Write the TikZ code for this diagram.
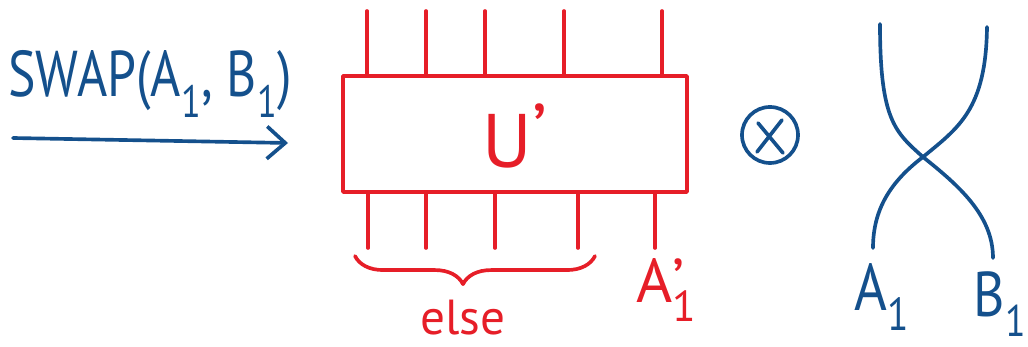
\documentclass[tikz,border=0pt]{standalone}
\usepackage{fontspec}
\setmainfont{PT Sans}
\usetikzlibrary{arrows.meta,decorations.pathreplacing}
\definecolor{inkblue}{HTML}{14508C}
\definecolor{inkred}{HTML}{E61E28}
\tikzset{
  pen/.style={line width=2.6pt, line cap=round, line join=round},
  bluepen/.style={pen, draw=inkblue},
  redpen/.style={pen, draw=inkred},
  hand/.style={inner sep=0pt, font=\fontsize{#1}{#1}\selectfont},
}
\begin{document}
\begin{tikzpicture}[x=0.025cm, y=-0.025cm]
\useasboundingbox (0,0) rectangle (1028,347);
% left: SWAP arrow
\node[hand=46, text=inkblue] (swap) at (150,84) {\scalebox{0.8}[1]{SWAP(A\textsubscript{1}, B\textsubscript{1})}};
\coordinate (arrowstart) at (13,138);
\coordinate (arrowend) at (288,143);
\draw[bluepen, -{Straight Barb[length=13pt,width=23pt]}] (arrowstart) -- (arrowend);
% middle: the box U'
\node[redpen, minimum width=8.6cm, minimum height=2.9cm, inner sep=0pt] (U) at (515,134) {};
\node[hand=54, text=inkred] (Ulabel) at (515,136) {U\raisebox{0.12em}{’}};
\foreach \x [count=\i] in {367,426,485,564,662}{
  \coordinate (top\i) at (\x,11);
  \draw[redpen] (top\i) -- (top\i |- U.north);
}
\foreach \x [count=\i] in {368,426,495,578,655}{
  \coordinate (bot\i) at (\x,248);
  \draw[redpen] (U.south -| bot\i) -- (bot\i);
}
\coordinate (bl) at (355,256);
\coordinate (br) at (595,256);
\draw[redpen, decorate, decoration={brace, mirror, amplitude=20pt, aspect=0.45}] (bl) -- (br);
\node[hand=35, text=inkred] (else) at (463,318) {else};
\node[hand=44, text=inkred] (Aprime) at (667,290) {A\rlap{’}\textsubscript{1}};
% tensor sign
\node[bluepen, circle, minimum size=1.4cm, inner sep=0pt] (tensor) at (770,135) {};
\draw[bluepen] ([shift={(-12,-12)}]tensor.center) -- ([shift={(13,18)}]tensor.center);
\draw[bluepen] ([shift={(12,-15)}]tensor.center) -- ([shift={(-13,17)}]tensor.center);
% right: crossing wires
\coordinate (Atop) at (880,24);
\coordinate (Btop) at (987,27);
\coordinate (X) at (923,157);
\coordinate (Abot) at (873,248);
\coordinate (Bbot) at (993,258);
\draw[bluepen] (Atop) .. controls (880,120) and (895,132) .. (X) .. controls (958,185) and (993,215) .. (Bbot);
\draw[bluepen] (Btop) .. controls (986,110) and (958,128) .. (X) .. controls (890,182) and (873,210) .. (Abot);
\node[hand=47, text=inkblue] (A1) at (882,297) {\scalebox{0.85}[1]{A\textsubscript{1}}};
\node[hand=45, text=inkblue] (B1) at (1000,304) {\scalebox{0.85}[1]{B\textsubscript{1}}};
\end{tikzpicture}
\end{document}
